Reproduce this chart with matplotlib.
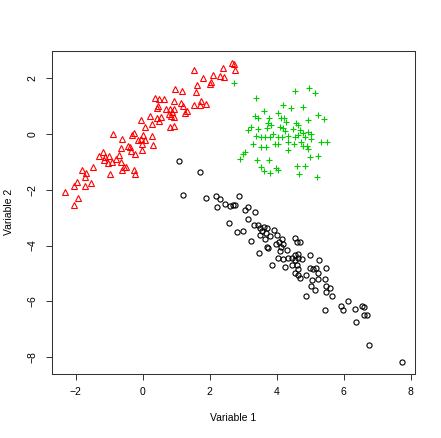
import matplotlib
matplotlib.use("Agg")
import matplotlib.pyplot as plt

plt.rcParams['font.family'] = ['Liberation Sans', 'DejaVu Sans']

# Group 1 (red triangles)
red_x = [2.67, 2.72, 2.77, 2.40, 1.55, 2.09, 1.81, 2.32, 2.44, 2.04, 2.02, 1.63, 1.61, 0.98, 1.19,
         0.37, 0.49, 0.63, 0.93, 1.16, 1.21, 1.73, 1.55, 1.71, 1.90, 0.44, 0.47, 0.71, 0.83, 0.93,
         0.88, 0.78, 0.85, 0.93, 1.28, 1.33, 0.42, 0.54, 0.49, 0.83, 0.93,
         -0.06, 0.22, 0.27, 0.07, -0.88, -0.60, -0.26, -0.31, 0.01, 0.29, -0.13, -0.06, 0.07, -0.01,
         0.31, -0.43, -0.36, -0.63, -0.33, -0.23, -0.01, -1.17, -1.30, -1.12, -1.00, -1.15, -0.71,
         -0.78, -0.92, -1.02, -0.63, -0.56, -0.49, -0.60, -0.25, -0.23, -0.98, -1.48, -1.82, -1.70,
         -1.72, -1.55, -1.72, -1.97, -2.04, -2.31, -1.93, -2.04]
red_y = [2.56, 2.50, 2.31, 2.38, 2.30, 2.12, 2.02, 2.08, 2.05, 1.88, 1.79, 1.75, 1.51, 1.63, 1.55,
         1.31, 1.27, 1.27, 1.19, 1.13, 1.01, 1.19, 1.04, 1.04, 1.07, 0.95, 0.99, 0.89, 0.89, 0.89,
         0.80, 0.71, 0.65, 0.62, 0.75, 0.83, 0.59, 0.62, 0.48, 0.24, 0.30,
         0.51, 0.63, 0.36, 0.24, 0.00, -0.18, 0.04, -0.04, -0.03, -0.06, -0.21, -0.18, -0.21, -0.34,
         -0.38, -0.42, -0.48, -0.51, -0.60, -0.71, -0.56, -0.63, -0.80, -0.81, -0.80, -0.93, -0.75,
         -0.89, -1.01, -1.05, -1.01, -1.19, -1.17, -1.29, -1.29, -1.45, -1.43, -1.19, -1.29, -1.41,
         -1.53, -1.75, -1.85, -1.73, -1.85, -2.09, -2.29, -2.54]

# Group 2 (green crosses)
green_x = [2.74, 3.40, 4.54, 4.97, 5.16, 4.20, 4.44, 4.79, 3.63, 3.35, 3.45, 3.77, 4.05, 4.13, 4.23,
           4.29, 4.94, 5.24, 5.42, 3.75, 3.83, 4.59, 4.64, 3.25, 3.15, 3.45, 3.70, 4.10, 4.20, 4.25,
           4.49, 4.69, 4.79, 4.94, 5.04, 3.40, 3.55, 3.65, 3.80, 3.90, 4.05, 4.15, 4.35, 4.54, 4.64,
           4.84, 5.02, 3.30, 3.95, 4.05, 4.35, 4.52, 4.74, 4.79, 4.92, 5.34, 5.51, 3.55, 3.67, 4.35,
           4.94, 3.06, 3.01, 2.91, 3.43, 3.77, 4.99, 5.24, 3.55, 3.63, 3.80, 3.98, 4.03, 4.62, 4.86,
           4.66, 5.22]
green_y = [1.84, 1.31, 1.55, 1.66, 1.46, 1.04, 0.95, 0.97, 0.83, 0.63, 0.59, 0.56, 0.75, 0.56, 0.56,
           0.44, 0.50, 0.68, 0.54, 0.41, 0.32, 0.41, 0.32, 0.24, 0.15, 0.18, 0.20, 0.24, 0.20, 0.12,
           0.18, 0.15, 0.04, 0.08, 0.00, -0.06, -0.09, -0.12, -0.12, 0.00, -0.12, -0.09, -0.06, -0.12, -0.04,
           -0.12, -0.18, -0.36, -0.36, -0.36, -0.30, -0.36, -0.30, -0.42, -0.42, -0.30, -0.28, -0.48, -0.48, -0.56,
           -0.54, -0.63, -0.71, -0.89, -0.92, -0.92, -0.84, -0.78, -1.19, -1.31, -1.39, -1.23, -1.28, -1.16, -1.13,
           -1.43, -1.55]

# Group 3 (black circles)
black_x = [1.08, 1.70, 1.20, 1.90, 2.20, 2.32, 2.89, 2.22, 2.45, 2.62, 2.70, 2.77, 3.15, 3.07, 3.36,
           2.59, 2.82, 2.99, 3.15, 3.34, 3.44, 3.51, 3.61, 3.71, 3.58, 3.68, 3.51, 3.91, 3.24, 3.81,
           3.64, 3.71, 3.74, 3.48, 4.01, 4.06, 4.16, 4.18, 3.98, 4.31, 4.14, 4.11, 4.55, 4.70, 4.60,
           3.86, 4.04, 4.18, 4.26, 4.46, 4.35, 4.55, 4.63, 4.55, 4.65, 4.75, 4.46, 4.60, 4.63, 4.55,
           4.65, 4.70, 5.00, 5.27, 4.88, 5.00, 5.10, 5.17, 5.25, 5.47, 5.07, 5.23, 5.45, 5.03, 5.15,
           5.47, 5.60, 5.47, 5.66, 4.87, 5.45, 5.91, 5.99, 6.12, 6.34, 6.54, 6.61, 6.61, 6.69, 6.37,
           6.76, 7.73]
black_y = [-0.95, -1.36, -2.17, -2.29, -2.23, -2.34, -2.23, -2.62, -2.51, -2.59, -2.53, -2.53, -2.62, -2.74, -2.80,
           -3.18, -3.51, -3.48, -3.06, -3.28, -3.25, -3.37, -3.34, -3.37, -3.49, -3.54, -3.61, -3.45, -3.85, -3.67,
           -3.78, -4.05, -4.09, -4.25, -3.63, -3.87, -3.78, -3.93, -3.93, -4.17, -4.05, -4.20, -3.73, -3.87, -3.87,
           -4.70, -4.44, -4.49, -4.76, -4.44, -4.46, -4.35, -4.32, -4.53, -4.46, -4.49, -4.68, -4.70, -4.85, -5.00,
           -5.06, -5.18, -4.35, -4.53, -5.06, -4.82, -4.85, -4.82, -5.00, -4.82, -5.24, -5.20, -5.20, -5.44, -5.60,
           -5.44, -5.51, -5.68, -5.80, -5.80, -6.31, -6.17, -6.31, -5.98, -6.29, -6.17, -6.21, -6.49, -6.49, -6.73,
           -7.56, -8.16]

x_ticks = [-2, 0, 2, 4, 6, 8]
y_ticks = [-8, -6, -4, -2, 0, 2]
x_label = "Variable 1"
y_label = "Variable 2"

W, H = 441, 438
fig = plt.figure(figsize=(W / 100, H / 100), dpi=100)
ax = fig.add_axes([51.7 / W, 1 - 373.5 / H, (415 - 51.7) / W, (373.5 - 50.7) / H])

ax.plot(black_x, black_y, linestyle='none', marker='o', ms=3.7, mfc='none', mec='black', mew=0.8)
ax.plot(red_x, red_y, linestyle='none', marker='^', ms=4.4, mfc='none', mec='#FF0000', mew=0.8)
ax.plot(green_x, green_y, linestyle='none', marker='+', ms=5.0, mec='#00CD00', mew=0.8)

ax.margins(x=0.04, y=0.04)
ax.set_xticks(x_ticks)
ax.set_yticks(y_ticks)
ax.tick_params(direction='out', length=4.5, width=0.7, labelsize=7.5, pad=5.5, color='#333333')
for lab in ax.get_yticklabels():
    lab.set_rotation(90)
    lab.set_va('center')
for s in ax.spines.values():
    s.set_linewidth(0.75)
    s.set_color('#333333')

ax.set_xlabel(x_label, fontsize=7.5)
ax.set_ylabel(y_label, fontsize=7.5)
ax.xaxis.set_label_coords(0.5, -0.138)
ax.yaxis.set_label_coords(-0.117, 0.5)
ax.xaxis.label.set_va('center')
ax.yaxis.label.set_va('center')

fig.savefig("out.png", dpi=100)
